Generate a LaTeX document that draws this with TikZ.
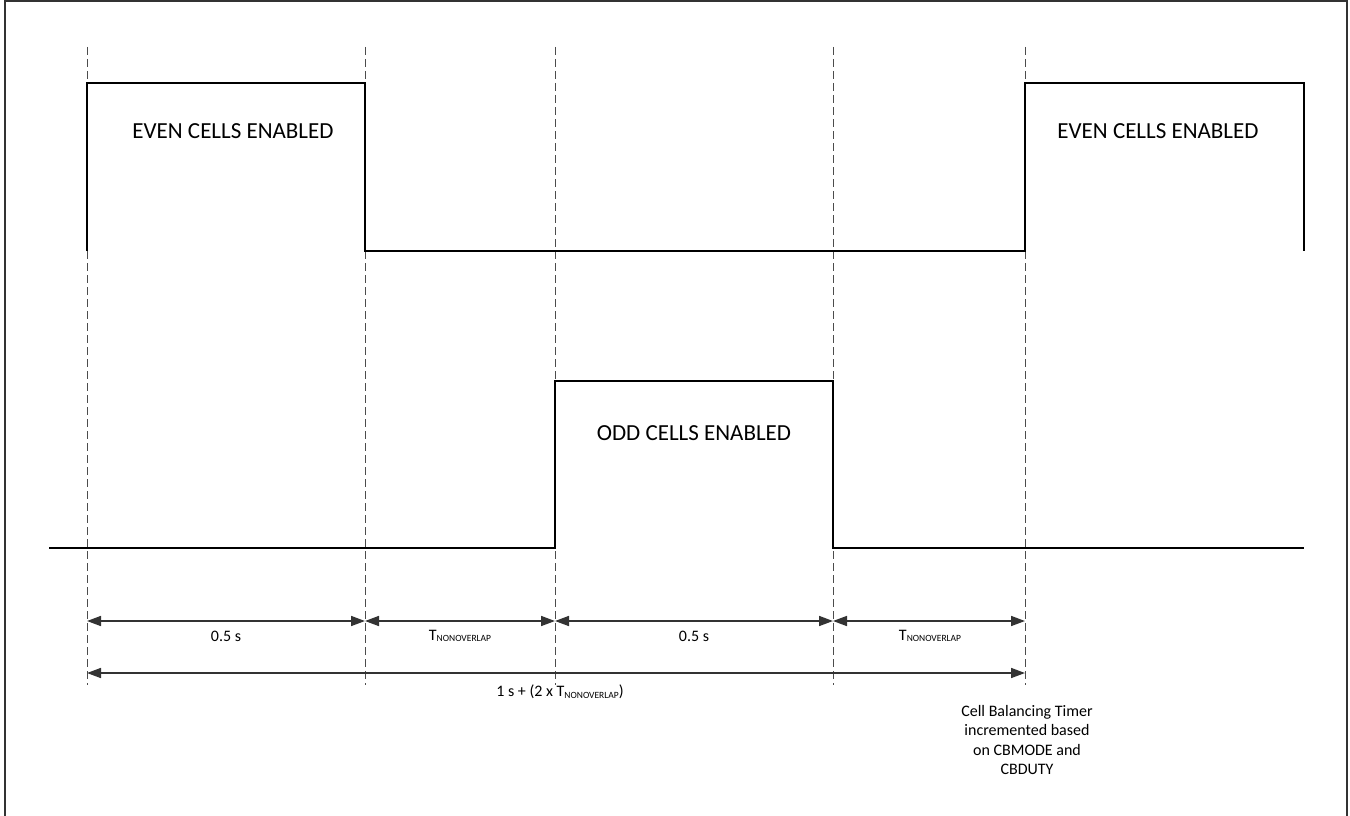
\documentclass[tikz,border=0pt]{standalone}
\usepackage{fontspec}
\setmainfont{Carlito}
\usetikzlibrary{arrows.meta}
\newcommand{\tnov}{T\raisebox{-1.5pt}{\fontsize{9.5}{10}\selectfont NONOVERLAP}}
\begin{document}
\begin{tikzpicture}[x=1pt,y=-1pt,
  sig/.style={line width=1.1pt, black},
  guide/.style={line width=1pt, dash pattern=on 8pt off 4pt, black!70},
  dimarrow/.style={line width=1.6pt, black!80, {Triangle[length=14pt,width=10pt]}-{Triangle[length=14pt,width=10pt]}},
  biglabel/.style={inner sep=0pt, font=\fontsize{23}{27}\selectfont},
  smalllabel/.style={inner sep=0pt, font=\fontsize{16}{19.5}\selectfont}]
\useasboundingbox (0,0) rectangle (1350,816);
\draw[line width=1.5pt, black!80] (5,816) -- (5,1) -- (1347,1) -- (1347,816);
% guide lines
\foreach \n/\x in {1/87,2/365,3/555,4/833,5/1025}{
  \coordinate (gt\n) at (\x,47);
  \coordinate (gb\n) at (\x,685);
  \coordinate (a\n) at (\x,621);
  \coordinate (b\n) at (\x,673);
  \draw[guide] (gt\n) -- (gb\n);
}
% even signal
\draw[sig] (87,251) -- (87,83) -- (365,83) -- (365,251) -- (1025,251) -- (1025,83) -- (1304,83) -- (1304,251);
% odd signal
\draw[sig] (49,548) -- (555,548) -- (555,381) -- (833,381) -- (833,548) -- (1304,548);
% dimension arrows
\draw[dimarrow] (a1) -- (a2);
\draw[dimarrow] (a2) -- (a3);
\draw[dimarrow] (a3) -- (a4);
\draw[dimarrow] (a4) -- (a5);
\draw[dimarrow] (b1) -- (b5);
% labels
\node[biglabel] (even1) at (233,131) {EVEN CELLS ENABLED};
\node[biglabel] (even2) at (1158,131) {EVEN CELLS ENABLED};
\node[biglabel] (odd) at (694,433) {ODD CELLS ENABLED};
\node[smalllabel] (l1) at (226,636) {0.5 s};
\node[smalllabel] (l2) at (460,636) {\tnov};
\node[smalllabel] (l3) at (694,636) {0.5 s};
\node[smalllabel] (l4) at (930,636) {\tnov};
\node[smalllabel] (l5) at (560,692) {1 s + (2 x \tnov)};
\node[smalllabel, align=center] (cbt) at (1027,740) {Cell Balancing Timer\\incremented based\\on CBMODE and\\CBDUTY};
\end{tikzpicture}
\end{document}
